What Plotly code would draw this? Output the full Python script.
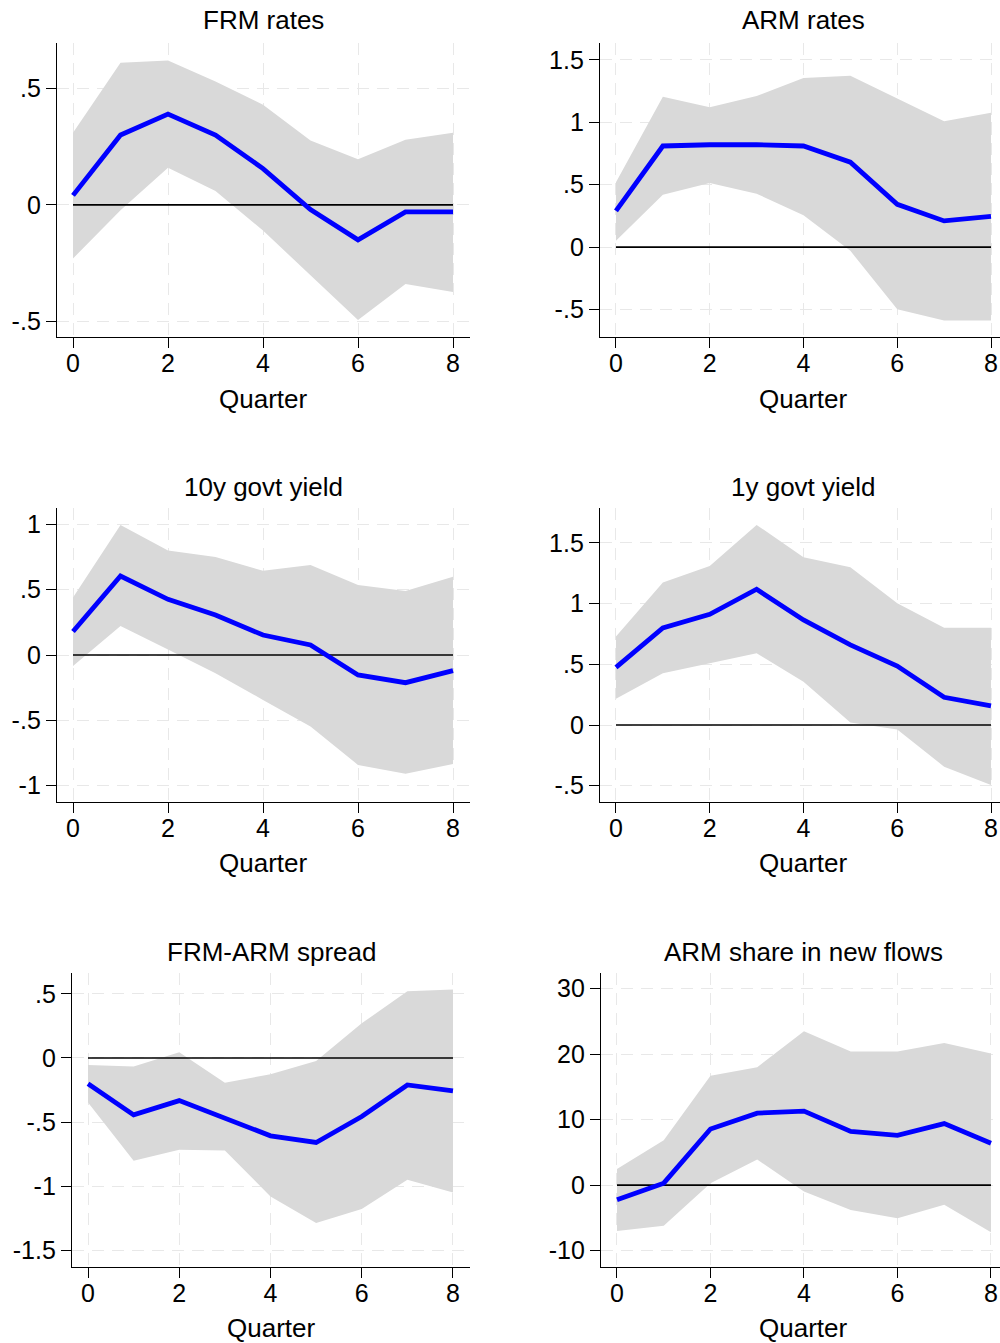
import plotly.graph_objects as go

# ---------------- data ----------------
quarters = [0, 1, 2, 3, 4, 5, 6, 7, 8]

panel_titles = ["FRM rates", "ARM rates", "10y govt yield", "1y govt yield",
                "FRM-ARM spread", "ARM share in new flows"]

frm_irf = [0.041, 0.30, 0.39, 0.30, 0.156, -0.02, -0.15, -0.03, -0.03]
frm_hi = [0.31, 0.61, 0.62, 0.53, 0.43, 0.277, 0.196, 0.28, 0.31]
frm_lo = [-0.23, -0.023, 0.16, 0.06, -0.11, -0.30, -0.494, -0.34, -0.374]

arm_irf = [0.29, 0.81, 0.82, 0.82, 0.81, 0.68, 0.343, 0.21, 0.247]
arm_hi = [0.52, 1.205, 1.12, 1.21, 1.354, 1.372, 1.19, 1.008, 1.077]
arm_lo = [0.05, 0.42, 0.513, 0.428, 0.255, -0.03, -0.497, -0.588, -0.588]

y10_irf = [0.18, 0.605, 0.426, 0.306, 0.153, 0.077, -0.153, -0.212, -0.12]
y10_hi = [0.44, 0.995, 0.80, 0.75, 0.645, 0.69, 0.536, 0.49, 0.60]
y10_lo = [-0.084, 0.222, 0.043, -0.14, -0.344, -0.548, -0.842, -0.91, -0.834]

y1_irf = [0.475, 0.80, 0.912, 1.118, 0.865, 0.66, 0.486, 0.228, 0.157]
y1_hi = [0.728, 1.173, 1.31, 1.648, 1.382, 1.30, 1.003, 0.80, 0.80]
y1_lo = [0.217, 0.426, 0.508, 0.59, 0.357, 0.02, -0.036, -0.343, -0.494]

spr_irf = [-0.20, -0.443, -0.332, -0.464, -0.606, -0.658, -0.456, -0.21, -0.256]
spr_hi = [-0.054, -0.067, 0.044, -0.192, -0.127, -0.023, 0.27, 0.52, 0.534]
spr_lo = [-0.347, -0.80, -0.715, -0.72, -1.078, -1.285, -1.176, -0.948, -1.047]

shr_irf = [-2.24, 0.3, 8.57, 11.0, 11.3, 8.2, 7.6, 9.4, 6.4]
shr_hi = [2.45, 6.84, 16.7, 18.0, 23.5, 20.4, 20.4, 21.7, 20.1]
shr_lo = [-7.0, -6.2, 0.3, 3.9, -0.97, -3.8, -5.05, -3.0, -7.2]

x_ticks = [0, 2, 4, 6, 8]
x_ticktext = ["0", "2", "4", "6", "8"]

y_ticks = [
    [-0.5, 0, 0.5],
    [-0.5, 0, 0.5, 1, 1.5],
    [-1, -0.5, 0, 0.5, 1],
    [-0.5, 0, 0.5, 1, 1.5],
    [-1.5, -1, -0.5, 0, 0.5],
    [-10, 0, 10, 20, 30],
]
y_ticktext = [
    ["-.5", "0", ".5"],
    ["-.5", "0", ".5", "1", "1.5"],
    ["-1", "-.5", "0", ".5", "1"],
    ["-.5", "0", ".5", "1", "1.5"],
    ["-1.5", "-1", "-.5", "0", ".5"],
    ["-10", "0", "10", "20", "30"],
]

series = [
    (frm_irf, frm_lo, frm_hi),
    (arm_irf, arm_lo, arm_hi),
    (y10_irf, y10_lo, y10_hi),
    (y1_irf, y1_lo, y1_hi),
    (spr_irf, spr_lo, spr_hi),
    (shr_irf, shr_lo, shr_hi),
]
zero_line = [0] * len(quarters)

# ---------------- layout geometry (pixels) ----------------
W, H = 1000, 1343
FONT = "Liberation Sans, Arial, Helvetica, sans-serif"

# plot area [left, right, top, bottom] in px
areas = [
    (57, 470, 43, 337),
    (600, 1000, 43, 337),
    (57, 470, 508, 802),
    (600, 1000, 508, 802),
    (72, 470, 973, 1267),
    (601, 1000, 973, 1267),
]
x_ranges = [
    [-0.337, 8.358],
    [-0.341, 8.192],
    [-0.337, 8.358],
    [-0.341, 8.192],
    [-0.351, 8.373],
    [-0.342, 8.193],
]
y_ranges = [
    [-0.567, 0.695],
    [-0.72, 1.635],
    [-1.126, 1.126],
    [-0.634, 1.787],
    [-1.628, 0.662],
    [-12.5, 32.4],
]
title_x = [263, 803, 263, 803, 271, 803]
title_y = [20, 20, 487, 487, 952, 952]
xlab_y = [399, 399, 863, 863, 1328, 1328]

GRID = dict(showgrid=True, gridcolor="#e8e8e8", gridwidth=1.3, griddash="12px,8px")
fig = go.Figure()
layout = dict(
    width=W, height=H,
    margin=dict(l=0, r=0, t=0, b=0),
    paper_bgcolor="white", plot_bgcolor="white",
    showlegend=False,
    font=dict(family=FONT, size=25, color="black"),
)
annotations = []

for i, (irf, lo, hi) in enumerate(series):
    n = i + 1
    xa = "x" if n == 1 else f"x{n}"
    ya = "y" if n == 1 else f"y{n}"
    fig.add_trace(go.Scatter(x=quarters, y=lo, xaxis=xa, yaxis=ya, mode="lines",
                             line=dict(width=0, color="#d9d9d9"), hoverinfo="skip"))
    fig.add_trace(go.Scatter(x=quarters, y=hi, xaxis=xa, yaxis=ya, mode="lines",
                             fill="tonexty", fillcolor="#d9d9d9",
                             line=dict(width=0, color="#d9d9d9"), hoverinfo="skip"))
    fig.add_trace(go.Scatter(x=quarters, y=zero_line, xaxis=xa, yaxis=ya, mode="lines",
                             line=dict(width=1.6, color="black")))
    fig.add_trace(go.Scatter(x=quarters, y=irf, xaxis=xa, yaxis=ya, mode="lines",
                             line=dict(width=4.8, color="#0000ff")))

    l, r, t, b = areas[i]
    xkey = "xaxis" if n == 1 else f"xaxis{n}"
    ykey = "yaxis" if n == 1 else f"yaxis{n}"
    layout[xkey] = dict(
        domain=[l / W, r / W], anchor=ya, range=x_ranges[i],
        tickvals=x_ticks, ticktext=x_ticktext,
        showline=True, linecolor="black", linewidth=1.4,
        ticks="outside", ticklen=10, tickwidth=1.4, tickcolor="black",
        ticklabelstandoff=-6,
        zeroline=False, tickfont=dict(size=25, family=FONT),
        fixedrange=True, **GRID,
    )
    layout[ykey] = dict(
        domain=[1 - b / H, 1 - t / H], anchor=xa, range=y_ranges[i],
        tickvals=y_ticks[i], ticktext=y_ticktext[i],
        showline=True, linecolor="black", linewidth=1.4,
        ticks="outside", ticklen=10, tickwidth=1.4, tickcolor="black",
        zeroline=False, tickfont=dict(size=25, family=FONT),
        fixedrange=True, **GRID,
    )
    annotations.append(dict(text=panel_titles[i], x=title_x[i] / W, y=1 - title_y[i] / H,
                            xref="paper", yref="paper", showarrow=False,
                            xanchor="center", yanchor="middle",
                            font=dict(size=26, family=FONT, color="black")))
    annotations.append(dict(text="Quarter", x=title_x[i] / W, y=1 - xlab_y[i] / H,
                            xref="paper", yref="paper", showarrow=False,
                            xanchor="center", yanchor="middle",
                            font=dict(size=26, family=FONT, color="black")))

layout["annotations"] = annotations
fig.update_layout(**layout)
fig.write_html(
    "out.html",
    config={"displayModeBar": False},
    post_script="document.body.style.margin='0px';document.body.style.padding='0px';",
)
